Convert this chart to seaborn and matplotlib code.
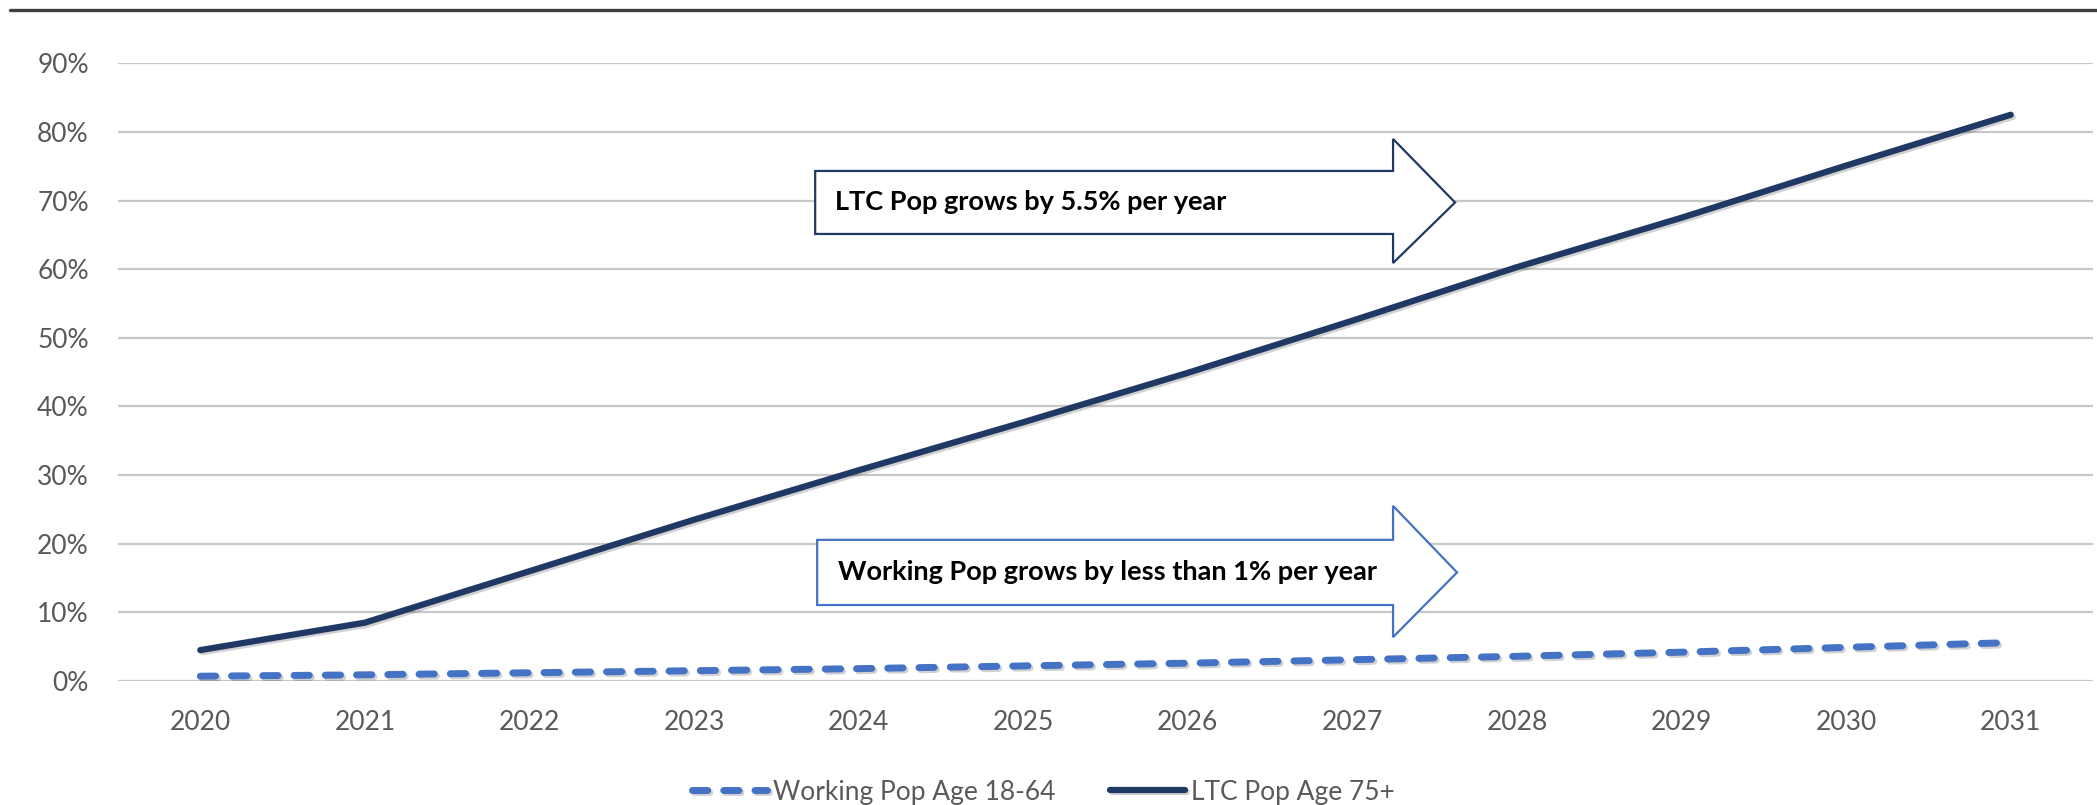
"""Working population vs LTC population growth, 2020-2031"""
# %% Imports
import numpy as np
import pandas as pd
import seaborn as sns
import matplotlib

matplotlib.use("Agg")
from matplotlib import pyplot as plt
from matplotlib import patheffects as pe
from matplotlib.patches import Polygon
from matplotlib.lines import Line2D
from matplotlib.ticker import PercentFormatter

# %% Data
years = [2020, 2021, 2022, 2023, 2024, 2025, 2026, 2027, 2028, 2029, 2030, 2031]
working_pop_growth = [0.007, 0.009, 0.012, 0.015, 0.018, 0.022, 0.026, 0.031, 0.036, 0.042, 0.049, 0.056]
ltc_pop_growth = [0.045, 0.085, 0.160, 0.235, 0.307, 0.377, 0.449, 0.525, 0.603, 0.675, 0.751, 0.825]
series_labels = ["Working Pop Age 18-64", "LTC Pop Age 75+"]
arrow_texts = ["LTC Pop grows by 5.5% per year", "Working Pop grows by less than 1% per year"]
y_ticks = [0.0, 0.1, 0.2, 0.3, 0.4, 0.5, 0.6, 0.7, 0.8, 0.9]

# %% Style
WORKING_BLUE = "#4472C4"
LTC_NAVY = "#203864"
GREY_TEXT = "#595959"
GRID_GREY = "#C8C8C8"

sns.set_theme(style="white")
plt.rcParams["font.family"] = ["Lato", "DejaVu Sans"]

df = pd.DataFrame({"year": years, "working": working_pop_growth, "ltc": ltc_pop_growth})


# %% Functions


def draw_block_arrow(ax, left, shaft_right, tip, box_bottom, box_top, head_bottom, head_top, color):
    """Excel-style block arrow outline, drawn in axes fraction"""
    mid = (box_bottom + box_top) / 2
    verts = [
        (left, box_bottom),
        (left, box_top),
        (shaft_right, box_top),
        (shaft_right, head_top),
        (tip, mid),
        (shaft_right, head_bottom),
        (shaft_right, box_bottom),
    ]
    arrow = Polygon(verts, closed=True, transform=ax.transAxes, facecolor="white",
                    edgecolor=color, linewidth=1.6, joinstyle="miter", zorder=4, clip_on=False)
    ax.add_patch(arrow)


# %% Plot
fig = plt.figure(figsize=(20.97, 8.05), dpi=100)
ax = fig.add_axes([118 / 2097, 1 - 681 / 805, 1975 / 2097, 617.7 / 805])

shadow = [pe.SimpleLineShadow(offset=(1.5, -1.5), shadow_color="black", alpha=0.18), pe.Normal()]
sns.lineplot(data=df, x="year", y="working", ax=ax, color=WORKING_BLUE, linewidth=5,
             linestyle=(0, (2.2, 2.3)), dash_capstyle="round", solid_capstyle="round",
             label=series_labels[0], path_effects=shadow, zorder=5)
sns.lineplot(data=df, x="year", y="ltc", ax=ax, color=LTC_NAVY, linewidth=4.5,
             solid_capstyle="round", solid_joinstyle="round",
             label=series_labels[1], path_effects=shadow, zorder=6)

ax.set_xlim(years[0] - 0.5, years[-1] + 0.5)
ax.set_ylim(0, 0.9)
ax.set_xticks(years)
ax.set_yticks(y_ticks)
ax.yaxis.set_major_formatter(PercentFormatter(xmax=1, decimals=0))
ax.tick_params(axis="both", length=0, labelsize=19, labelcolor=GREY_TEXT)
ax.tick_params(axis="x", pad=21)
ax.tick_params(axis="y", pad=21)
ax.set_xlabel("")
ax.set_ylabel("")
ax.grid(axis="y", color=GRID_GREY, linewidth=1.6)
ax.grid(axis="x", visible=False)
ax.set_axisbelow(True)
sns.despine(ax=ax, left=True, bottom=True)

# callout arrows
draw_block_arrow(ax, 0.353, 0.6456, 0.677, 0.7237, 0.8257, 0.6767, 0.8775, LTC_NAVY)
ax.text(0.363, 0.7747, arrow_texts[0], transform=ax.transAxes, ha="left", va="center",
        fontsize=19.5, fontweight="bold", color="black", zorder=5)
draw_block_arrow(ax, 0.354, 0.6456, 0.678, 0.1230, 0.2285, 0.0710, 0.2835, WORKING_BLUE)
ax.text(0.3646, 0.1757, arrow_texts[1], transform=ax.transAxes, ha="left", va="center",
        fontsize=19.5, fontweight="bold", color="black", zorder=5)

ax.legend(loc="center", bbox_to_anchor=(0.4976, 1 - 792 / 805), bbox_transform=fig.transFigure,
          ncol=2, frameon=False, fontsize=19, labelcolor=GREY_TEXT, handlelength=2.84,
          handletextpad=0.23, columnspacing=2.05)

# thin dark rule across the top of the figure
fig.add_artist(Line2D([10 / 2097, 1], [1 - 10 / 805, 1 - 10 / 805], transform=fig.transFigure,
                      color="#404040", linewidth=2.4))

fig.savefig("out.png", dpi=100)
